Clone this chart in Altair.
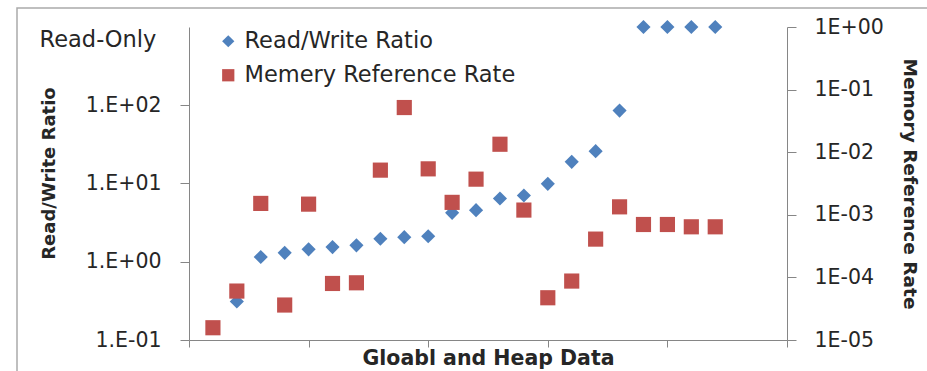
import altair as alt
import pandas as pd

# Global and heap data objects, indexed 1..22 along the x axis
obj_index = list(range(1, 23))

# Read/write ratio per object (left, log axis); 1000 marks read-only objects
rw_index = list(range(2, 23))
rw_ratio = [0.31, 1.15, 1.30, 1.44, 1.54, 1.62, 1.97, 2.06, 2.12, 4.22, 4.56,
            6.43, 7.03, 9.9, 18.9, 25.9, 85.5, 1000, 1000, 1000, 1000]

# Memory reference rate per object (right, log axis)
mem_rate = [1.57e-5, 6.05e-5, 1.52e-3, 3.62e-5, 1.48e-3, 8.0e-5, 8.2e-5, 5.17e-3,
            5.17e-2, 5.42e-3, 1.58e-3, 3.71e-3, 1.34e-2, 1.19e-3, 4.73e-5, 8.74e-5,
            4.09e-4, 1.34e-3, 7.0e-4, 7.0e-4, 6.43e-4, 6.43e-4]

series_names = ["Read/Write Ratio", "Memery Reference Rate"]
series_colors = ["#4F81BD", "#C0504D"]
series_shapes = ["diamond", "square"]

left_ticks = [0.1, 1, 10, 100]
left_labels = ["1.E-01", "1.E+00", "1.E+01", "1.E+02"]
right_ticks = [1e-5, 1e-4, 1e-3, 1e-2, 1e-1, 1]
right_labels = ["1E-05", "1E-04", "1E-03", "1E-02", "1E-01", "1E+00"]
x_ticks = [0, 5, 10, 15, 20, 25]

FONT = "DejaVu Sans"
AXIS_GRAY = "#868686"
TEXT = "#262626"


def label_expr(values, labels):
    expr = "''"
    for v, lab in zip(values, labels):
        expr = f"abs(datum.value - {v}) < {v} * 1e-6 ? '{lab}' : ({expr})"
    return expr


rw_df = pd.DataFrame({"idx": rw_index, "value": rw_ratio, "series": series_names[0]})
mem_df = pd.DataFrame({"idx": obj_index, "value": mem_rate, "series": series_names[1]})

legend_opts = dict(
    title=None, orient="none", legendX=28, legendY=3,
    labelFont=FONT, labelFontSize=22.5, labelColor=TEXT, labelLimit=0,
    symbolSize=150, symbolStrokeWidth=0, rowPadding=11, labelOffset=5,
)
color = alt.Color(
    "series:N",
    scale=alt.Scale(domain=series_names, range=series_colors),
    legend=alt.Legend(**legend_opts),
)
shape = alt.Shape(
    "series:N",
    scale=alt.Scale(domain=series_names, range=series_shapes),
    legend=alt.Legend(**legend_opts),
)

x_enc = alt.X(
    "idx:Q",
    scale=alt.Scale(domain=[0, 25], nice=False, zero=False),
    axis=alt.Axis(
        values=x_ticks, labels=False, grid=False, tickSize=7,
        title="Gloabl and Heap Data", titleFont=FONT, titleFontSize=20.5,
        titleFontWeight="bold", titleColor=TEXT, titlePadding=1,
    ),
)

rw_layer = alt.Chart(rw_df).mark_point(filled=True, opacity=1, size=200).encode(
    x=x_enc,
    y=alt.Y(
        "value:Q",
        scale=alt.Scale(type="log", domain=[0.1, 1000], nice=False),
        axis=alt.Axis(
            orient="left", values=left_ticks,
            labelExpr=label_expr(left_ticks, left_labels),
            grid=False, tickSize=9, labelPadding=19,
            labelFont=FONT, labelFontSize=20.5, labelColor=TEXT,
            title="Read/Write Ratio", titleFont=FONT, titleFontSize=18,
            titleFontWeight="bold", titleColor=TEXT, titlePadding=27,
            titleY=146,
        ),
    ),
    color=color,
    shape=shape,
)

mem_layer = alt.Chart(mem_df).mark_point(filled=True, opacity=1, size=230).encode(
    x=alt.X("idx:Q"),
    y=alt.Y(
        "value:Q",
        scale=alt.Scale(type="log", domain=[1e-5, 1], nice=False),
        axis=alt.Axis(
            orient="right", values=right_ticks,
            labelExpr=label_expr(right_ticks, right_labels),
            grid=False, tickSize=9, labelPadding=18,
            labelFont=FONT, labelFontSize=20.5, labelColor=TEXT,
            title="Memory Reference Rate", titleFont=FONT, titleFontSize=18.5,
            titleFontWeight="bold", titleColor=TEXT, titlePadding=16,
        ),
    ),
    color=color,
    shape=shape,
)

# "Read-Only" note above the left axis labels
note = alt.Chart(pd.DataFrame({"text": ["Read-Only"]})).mark_text(
    font=FONT, fontSize=22.5, color=TEXT, align="center", baseline="middle"
).encode(x=alt.value(-91), y=alt.value(13), text="text:N")

# Chart-area frame
frame = alt.Chart(pd.DataFrame({"k": [0]})).mark_rect(
    fill=None, stroke="#ABABAB", strokeWidth=1.5
).encode(x=alt.value(-172), x2=alt.value(760), y=alt.value(-19), y2=alt.value(360))

chart = (
    alt.layer(frame, rw_layer, mem_layer, note)
    .resolve_scale(y="independent")
    .properties(
        width=598, height=313,
        autosize=alt.AutoSizeParams(type="none"),
        padding={"left": 189, "top": 27, "right": 140, "bottom": 31},
        background="white",
    )
    .configure_view(stroke=None)
    .configure_axis(domainColor=AXIS_GRAY, tickColor=AXIS_GRAY, domainWidth=1, tickWidth=1)
)

chart.save("out.html", embed_options={"renderer": "svg", "actions": False})
